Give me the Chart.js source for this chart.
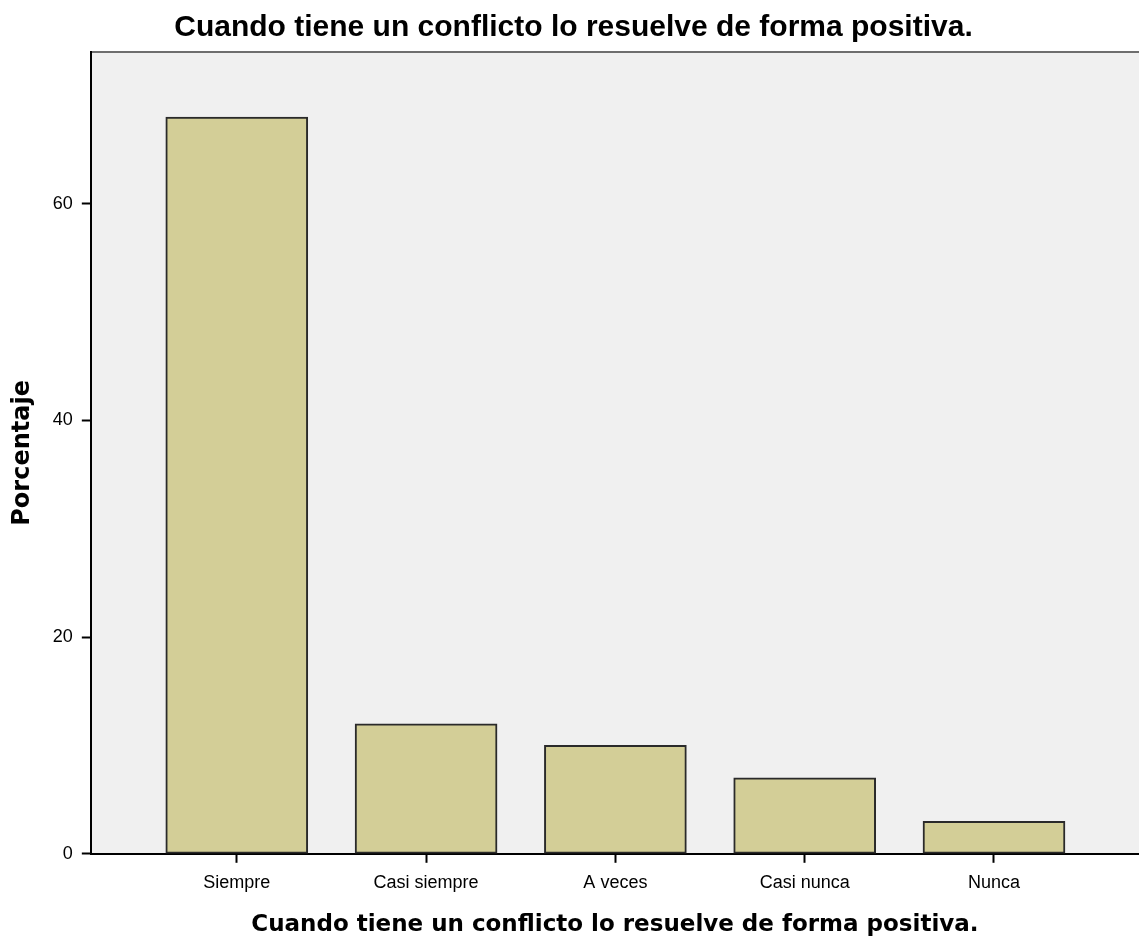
<!DOCTYPE html>
<html>
<head>
<meta charset="utf-8">
<script src="https://cdn.jsdelivr.net/npm/chart.js@4"></script>
<style>
  html, body { margin: 0; padding: 0; background: #fff; }
  #wrap { width: 1139px; height: 943px; }
</style>
</head>
<body>
<div id="wrap"><canvas id="myChart" width="1139" height="943"></canvas></div>
<script>
// data
const categories = ['Siempre', 'Casi siempre', 'A veces', 'Casi nunca', 'Nunca'];
const percentages = [68, 12, 10, 7, 3];
const yTicks = [0, 20, 40, 60];

const chartTitle = 'Cuando tiene un conflicto lo resuelve de forma positiva.';

// grey plot background + top frame line
const plotBackground = {
    id: 'plotBackground',
    beforeDraw(chart) {
        const a = chart.chartArea;
        const c = chart.ctx;
        c.save();
        c.fillStyle = '#f0f0f0';
        c.fillRect(a.left, a.top, a.right - a.left, a.bottom - a.top);
        c.strokeStyle = '#6e6e6e';
        c.lineWidth = 2;
        c.beginPath();
        c.moveTo(a.left, a.top);
        c.lineTo(a.right, a.top);
        c.stroke();
        c.restore();
    }
};

const points = percentages.map((v, i) => ({ x: i + 1, y: v }));

new Chart(document.getElementById('myChart'), {
    type: 'bar',
    data: {
        datasets: [{
            data: points,
            backgroundColor: '#d3ce97',
            borderColor: '#2a2a2a',
            borderWidth: 2,
            borderSkipped: false,
            barThickness: 142
        }]
    },
    options: {
        responsive: false,
        animation: false,
        layout: { padding: { top: 0, right: 0, bottom: 4, left: 8 } },
        plugins: {
            legend: { display: false },
            tooltip: { enabled: false },
            title: {
                display: true,
                text: chartTitle,
                color: '#000',
                font: { family: 'Liberation Sans', size: 30, weight: 'bold' },
                padding: { top: 10, bottom: 6 }
            }
        },
        scales: {
            x: {
                type: 'linear',
                offset: false,
                min: 0.229,
                max: 5.766,
                afterBuildTicks: axis => {
                    axis.ticks = categories.map((c, i) => ({ value: i + 1 }));
                },
                ticks: {
                    color: '#000',
                    font: { family: 'Liberation Sans', size: 18 },
                    padding: 9,
                    maxRotation: 0,
                    autoSkip: false,
                    callback: v => categories[v - 1]
                },
                grid: { offset: false, drawOnChartArea: false, color: '#000', tickLength: 9, tickWidth: 2 },
                border: { color: '#000', width: 2 },
                title: {
                    display: true,
                    text: chartTitle,
                    color: '#000',
                    font: { family: 'DejaVu Sans', size: 23, weight: 'bold' },
                    padding: { top: 9, bottom: 0 }
                }
            },
            y: {
                min: 0,
                max: 74,
                afterBuildTicks: axis => {
                    axis.ticks = yTicks.map(v => ({ value: v }));
                },
                ticks: {
                    color: '#000',
                    font: { family: 'Liberation Sans', size: 18 },
                    padding: 9
                },
                grid: { drawOnChartArea: false, color: '#000', tickLength: 9, tickWidth: 2 },
                border: { color: '#000', width: 2 },
                title: {
                    display: true,
                    text: 'Porcentaje',
                    color: '#000',
                    font: { family: 'DejaVu Sans', size: 24, weight: 'bold' },
                    padding: { top: 0, bottom: 7 }
                }
            }
        }
    },
    plugins: [plotBackground]
});
</script>
</body>
</html>
